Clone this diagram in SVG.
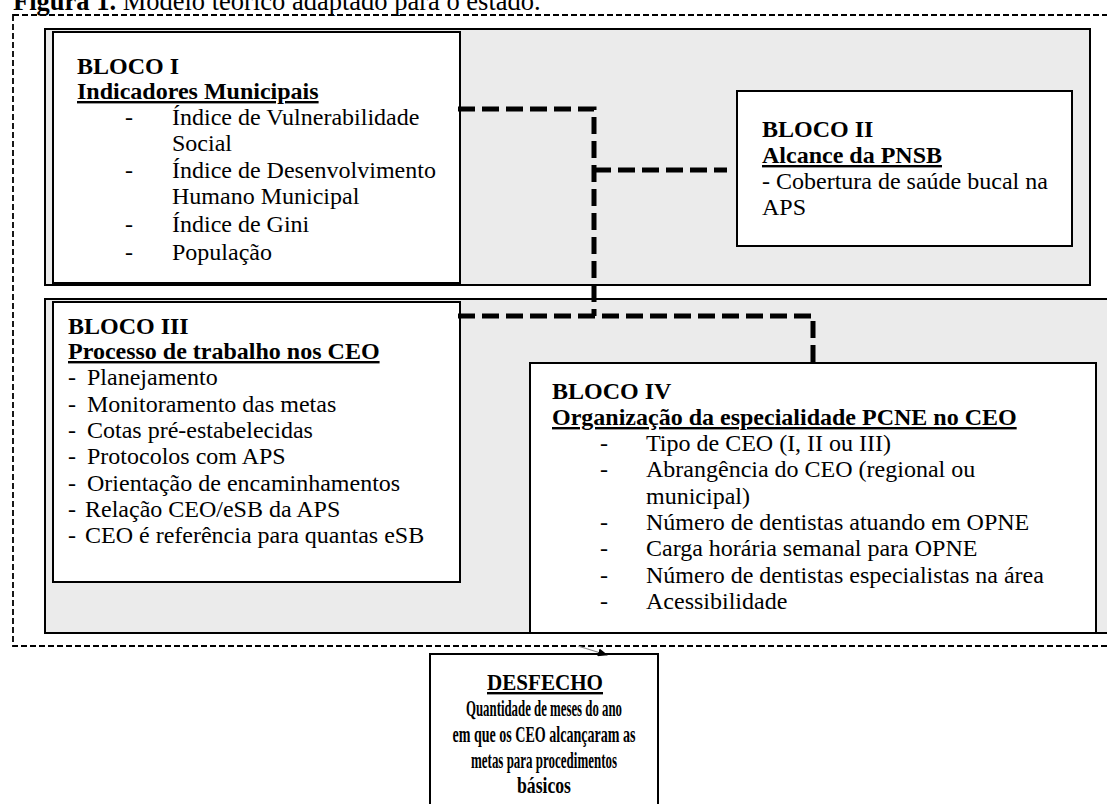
<svg xmlns="http://www.w3.org/2000/svg" width="1107" height="804" viewBox="0 0 1107 804">
<defs>
<style>
text{font-family:"Liberation Serif","Times New Roman",serif;font-size:24px;fill:#000}
.b{font-weight:bold}
.u{text-decoration:underline}
.c{text-anchor:middle}
.d{font-size:24px;font-weight:bold;text-anchor:middle}
.gray{fill:#ebebeb;stroke:#000;stroke-width:2}
.box{fill:#fff;stroke:#000;stroke-width:2}
.conn{fill:none;stroke:#000;stroke-width:5;stroke-dasharray:17,7}
</style>
<marker id="ah" markerWidth="10" markerHeight="8" refX="9" refY="4" orient="auto" markerUnits="userSpaceOnUse">
<path d="M0,0 L10,4 L0,8 z" fill="#000"/>
</marker>
</defs>
<rect width="1107" height="804" fill="#fff"/>
<text x="13" y="10" style="font-size:26.5px"><tspan class="b">Figura 1.</tspan> Modelo teórico adaptado para o estado.</text>
<rect id="outer" x="13" y="15" width="1100" height="631" fill="none" stroke="#000" stroke-width="1.8" stroke-dasharray="6,3"/>
<g id="grupo1"><rect class="gray" x="45" y="29" width="1045" height="256"/></g>
<g id="grupo2"><rect class="gray" x="45" y="299" width="1065" height="334"/></g>
<g id="bloco1">
<rect class="box" x="53" y="32" width="407" height="251"/>
<text x="77" y="74" class="b">BLOCO I</text>
<text x="77" y="99" class="b u">Indicadores Municipais</text>
<text x="125" y="125">-</text><text x="172" y="125">Índice de Vulnerabilidade</text>
<text x="172" y="151">Social</text>
<text x="125" y="178">-</text><text x="172" y="178">Índice de Desenvolvimento</text>
<text x="172" y="204">Humano Municipal</text>
<text x="125" y="232">-</text><text x="172" y="232">Índice de Gini</text>
<text x="125" y="260">-</text><text x="172" y="260">População</text>
</g>
<g id="bloco2">
<rect class="box" x="737" y="91" width="335" height="155"/>
<text x="762" y="137" class="b">BLOCO II</text>
<text x="762" y="163" class="b u">Alcance da PNSB</text>
<text x="762" y="189">- Cobertura de saúde bucal na</text>
<text x="762" y="215">APS</text>
</g>
<g id="bloco3">
<rect class="box" x="53" y="302" width="407" height="280"/>
<text x="68" y="334" class="b">BLOCO III</text>
<text x="68" y="359" class="b u">Processo de trabalho nos CEO</text>
<text x="68" y="385">-</text><text x="87" y="385">Planejamento</text>
<text x="68" y="412">-</text><text x="87" y="412">Monitoramento das metas</text>
<text x="68" y="438">-</text><text x="87" y="438">Cotas pré-estabelecidas</text>
<text x="68" y="464">-</text><text x="87" y="464">Protocolos com APS</text>
<text x="68" y="491">-</text><text x="87" y="491">Orientação de encaminhamentos</text>
<text x="68" y="517">-</text><text x="85" y="517">Relação CEO/eSB da APS</text>
<text x="68" y="543">-</text><text x="85" y="543">CEO é referência para quantas eSB</text>
</g>
<g id="bloco4">
<rect class="box" x="530" y="363" width="566" height="270"/>
<text x="552" y="399" class="b">BLOCO IV</text>
<text x="552" y="425" class="b u">Organização da especialidade PCNE no CEO</text>
<text x="600" y="451">-</text><text x="646" y="451">Tipo de CEO (I, II ou III)</text>
<text x="600" y="477">-</text><text x="646" y="477">Abrangência do CEO (regional ou</text>
<text x="646" y="504">municipal)</text>
<text x="600" y="530">-</text><text x="646" y="530">Número de dentistas atuando em OPNE</text>
<text x="600" y="556">-</text><text x="646" y="556">Carga horária semanal para OPNE</text>
<text x="600" y="583">-</text><text x="646" y="583">Número de dentistas especialistas na área</text>
<text x="600" y="609">-</text><text x="646" y="609">Acessibilidade</text>
</g>
<g id="desfecho">
<rect class="box" x="430" y="654" width="228" height="160"/>
<text x="545" y="690" class="d u" textLength="116" lengthAdjust="spacingAndGlyphs">DESFECHO</text>
<text x="544" y="716" class="d" textLength="156" lengthAdjust="spacingAndGlyphs">Quantidade de meses do ano</text>
<text x="544" y="742" class="d" textLength="183" lengthAdjust="spacingAndGlyphs">em que os CEO alcançaram as</text>
<text x="544" y="768" class="d" textLength="146" lengthAdjust="spacingAndGlyphs">metas para procedimentos</text>
<text x="544" y="793" class="d" textLength="54" lengthAdjust="spacingAndGlyphs">básicos</text>
</g>
<g id="connectors">
<path class="conn" d="M458,109 H594 V316"/>
<path class="conn" d="M594,170 H727"/>
<path class="conn" d="M458,316 H813 V363"/>
<line x1="578" y1="646" x2="607" y2="655" stroke="#888" stroke-width="1.2" marker-end="url(#ah)"/>
</g>
</svg>
